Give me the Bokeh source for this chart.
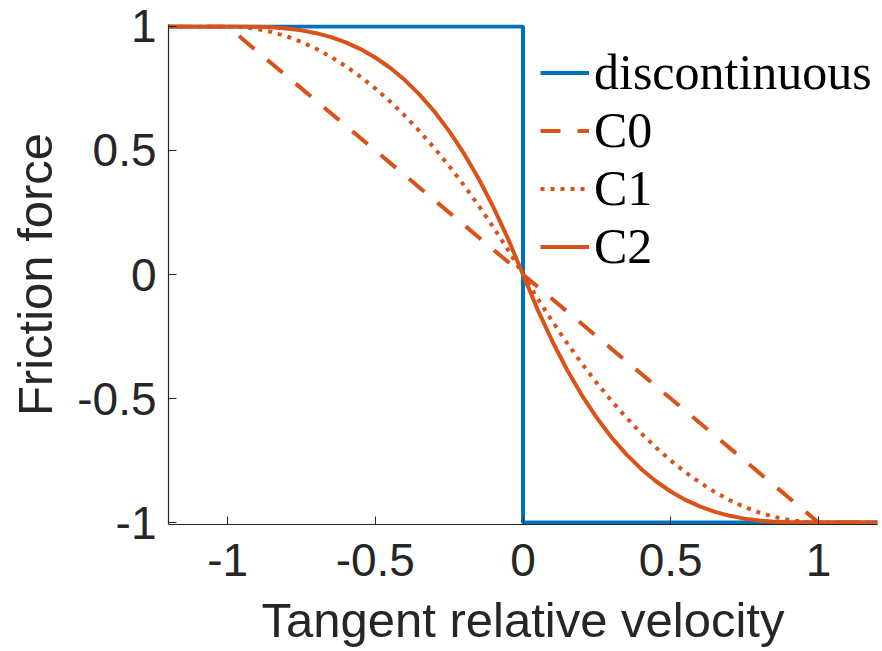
from bokeh.plotting import figure
from bokeh.models import Range1d, FixedTicker, Legend, LegendItem
from bokeh.embed import file_html
from bokeh.resources import INLINE

# ---- data ----
x_disc = [-1.2, 0.0, 0.0, 1.2]
y_disc = [1.0, 1.0, -1.0, -1.0]

x_c0 = [-1.2, -1.0, 1.0, 1.2]
y_c0 = [1.0, 1.0, -1.0, -1.0]

x_smooth = [-1.2, -1.0, -0.95, -0.9, -0.85, -0.8, -0.75, -0.7, -0.65, -0.6, -0.55, -0.5,
            -0.45, -0.4, -0.35, -0.3, -0.25, -0.2, -0.15, -0.1, -0.05, 0.0,
            0.05, 0.1, 0.15, 0.2, 0.25, 0.3, 0.35, 0.4, 0.45, 0.5,
            0.55, 0.6, 0.65, 0.7, 0.75, 0.8, 0.85, 0.9, 0.95, 1.0, 1.2]
y_c1 = [1.0, 1.0, 0.9975, 0.99, 0.9775, 0.96, 0.9375, 0.91, 0.8775, 0.84, 0.7975, 0.75,
        0.6975, 0.64, 0.5775, 0.51, 0.4375, 0.36, 0.2775, 0.19, 0.0975, 0.0,
        -0.0975, -0.19, -0.2775, -0.36, -0.4375, -0.51, -0.5775, -0.64, -0.6975, -0.75,
        -0.7975, -0.84, -0.8775, -0.91, -0.9375, -0.96, -0.9775, -0.99, -0.9975, -1.0, -1.0]
y_c2 = [1.0, 1.0, 0.9999, 0.999, 0.9966, 0.992, 0.9844, 0.973, 0.9571, 0.936, 0.9089, 0.875,
        0.8336, 0.784, 0.7254, 0.657, 0.5781, 0.488, 0.3859, 0.271, 0.1426, 0.0,
        -0.1426, -0.271, -0.3859, -0.488, -0.5781, -0.657, -0.7254, -0.784, -0.8336, -0.875,
        -0.9089, -0.936, -0.9571, -0.973, -0.9844, -0.992, -0.9966, -0.999, -0.9999, -1.0, -1.0]

tick_vals = [-1, -0.5, 0, 0.5, 1]
tick_labels = ["-1", "-0.5", "0", "0.5", "1"]
series_names = ["discontinuous", "C0", "C1", "C2"]
x_title = "Tangent relative velocity"
y_title = "Friction force"

BLUE = "#0072BD"
ORANGE = "#D95319"
AXC = "#262626"

# small padding on the y range so the lines at +/-1 are drawn at full width
p = figure(width=880, height=651, output_backend="svg", toolbar_location=None,
           x_range=Range1d(-1.2, 1.2), y_range=Range1d(-1.008, 1.008),
           min_border_left=168, min_border_right=3, min_border_top=24, min_border_bottom=127)
p.outline_line_color = None
p.grid.visible = False
p.background_fill_color = "white"

r0 = p.line(x_disc, y_disc, line_color=BLUE, line_width=4)
r1 = p.line(x_c0, y_c0, line_color=ORANGE, line_width=4, line_dash="20 17")
r2 = p.line(x_smooth, y_c1, line_color=ORANGE, line_width=4, line_dash="4 6")
r3 = p.line(x_smooth, y_c2, line_color=ORANGE, line_width=4)

for ax in (p.xaxis[0], p.yaxis[0]):
    ax.ticker = FixedTicker(ticks=tick_vals)
    ax.major_label_overrides = {v: l for v, l in zip(tick_vals, tick_labels)}
    ax.minor_tick_line_color = None
    ax.major_tick_in = 8
    ax.major_tick_out = 0
    ax.axis_line_color = AXC
    ax.axis_line_width = 1.2
    ax.major_tick_line_color = AXC
    ax.major_label_text_font = "Liberation Sans"
    ax.major_label_text_font_size = "46px"
    ax.major_label_text_color = AXC
    ax.axis_label_text_font = "Liberation Sans"
    ax.axis_label_text_font_size = "49px"
    ax.axis_label_text_font_style = "normal"
    ax.axis_label_text_color = AXC

p.xaxis.axis_label = x_title
p.yaxis.axis_label = y_title
p.xaxis.major_label_standoff = 19
p.xaxis.axis_label_standoff = 14
p.yaxis.major_label_standoff = 12
p.yaxis.axis_label_standoff = 12

legend = Legend(items=[LegendItem(label=n, renderers=[r]) for n, r in zip(series_names, [r0, r1, r2, r3])],
                location=(372, 249))
legend.label_text_font = "Liberation Serif"
legend.label_text_font_size = "50px"
legend.label_text_color = "black"
legend.glyph_width = 49
legend.glyph_height = 57
legend.label_height = 57
legend.spacing = 0
legend.label_standoff = 5
legend.padding = 0
legend.margin = 0
legend.border_line_alpha = 0
legend.background_fill_alpha = 0
p.add_layout(legend)

open("out.html", "w").write(file_html(p, INLINE))
